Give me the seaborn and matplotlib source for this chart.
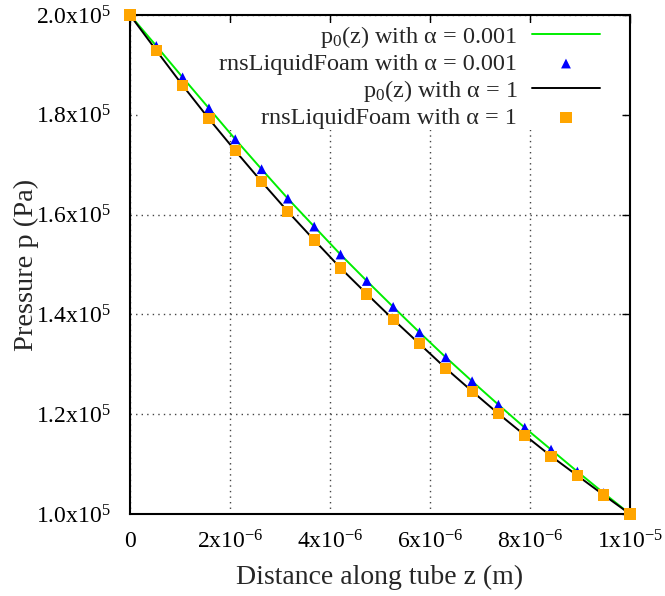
"""
Pressure along a tube: analytic p0(z) against rnsLiquidFoam results
"""

import matplotlib
matplotlib.use('Agg')
import matplotlib.pyplot as plt
from matplotlib.patches import Rectangle
import seaborn as sns

# Distance along the tube (m)
z = [0.0, 5.263e-7, 1.0526e-6, 1.5789e-6, 2.1053e-6, 2.6316e-6, 3.1579e-6,
     3.6842e-6, 4.2105e-6, 4.7368e-6, 5.2632e-6, 5.7895e-6, 6.3158e-6,
     6.8421e-6, 7.3684e-6, 7.8947e-6, 8.4211e-6, 8.9474e-6, 9.4737e-6, 1.0e-5]

# Analytic pressure (Pa)
p0_alpha_small = [200000, 193800, 187500, 181300, 175100, 169100, 163200,
                  157600, 152000, 146700, 141500, 136400, 131400, 126600,
                  121900, 117300, 112900, 108500, 104200, 100000]
p0_alpha_one = [200000, 192900, 185900, 179200, 172800, 166600, 160600,
                154900, 149300, 144100, 139000, 134100, 129200, 124600,
                120100, 115800, 111600, 107700, 103800, 100000]

# Solver results (Pa)
foam_alpha_small = [200000, 193800, 187500, 181300, 175100, 169100, 163200,
                    157600, 152000, 146700, 141500, 136400, 131400, 126600,
                    121900, 117300, 112900, 108500, 104200, 100000]
foam_alpha_one = [200000, 192900, 185900, 179200, 172800, 166600, 160600,
                  154900, 149300, 144100, 139000, 134100, 129200, 124600,
                  120100, 115800, 111600, 107700, 103800, 100000]

labels = ['p$_0$(z) with α = 0.001',
          'rnsLiquidFoam with α = 0.001',
          'p$_0$(z) with α = 1',
          'rnsLiquidFoam with α = 1']

xticks = [0, 2e-6, 4e-6, 6e-6, 8e-6, 1e-5]
xtick_labels = ['0', '2x10$^{-6}$', '4x10$^{-6}$', '6x10$^{-6}$',
                '8x10$^{-6}$', '1x10$^{-5}$']
yticks = [1.0e5, 1.2e5, 1.4e5, 1.6e5, 1.8e5, 2.0e5]
ytick_labels = ['1.0x10$^5$', '1.2x10$^5$', '1.4x10$^5$', '1.6x10$^5$',
                '1.8x10$^5$', '2.0x10$^5$']

sns.set_theme(style='white')
plt.rcParams['font.family'] = ['Liberation Serif', 'DejaVu Serif']
plt.rcParams['mathtext.fontset'] = 'custom'
plt.rcParams['mathtext.rm'] = 'Liberation Serif'
plt.rcParams['mathtext.it'] = 'Liberation Serif:italic'
plt.rcParams['mathtext.default'] = 'regular'

fig = plt.figure(figsize=(6.65, 5.96), dpi=100)
ax = fig.add_axes([130 / 665, 1 - 514 / 596, 500 / 665, 499 / 596])

sns.lineplot(x=z, y=p0_alpha_small, color='#00ee00', linewidth=1.4,
             label=labels[0], ax=ax, zorder=3)
sns.scatterplot(x=z, y=foam_alpha_small, marker='^', color='#0000ff', s=50,
                edgecolor='none', linewidth=0, label=labels[1], ax=ax,
                zorder=4, clip_on=False)
sns.lineplot(x=z, y=p0_alpha_one, color='black', linewidth=1.4,
             label=labels[2], ax=ax, zorder=5)
sns.scatterplot(x=z, y=foam_alpha_one, marker='s', color='#ffa500', s=65,
                edgecolor='none', linewidth=0, label=labels[3], ax=ax,
                zorder=6, clip_on=False)

ax.set_xlim(0, 1e-5)
ax.set_ylim(1e5, 2e5)
ax.set_xticks(xticks)
ax.set_xticklabels(xtick_labels)
ax.set_yticks(yticks)
ax.set_yticklabels(ytick_labels)

ax.set_axisbelow(True)
ax.grid(True, color='#444444', linestyle=(0, (1, 3)), linewidth=1.0)
# opaque key area hides the grid at the top
ax.add_patch(Rectangle((0.016, 0.77), 0.968, 0.214, transform=ax.transAxes,
                       facecolor='white', edgecolor='none', zorder=0.8))

ax.tick_params(direction='in', length=6, width=1, top=True, right=True,
               labelsize=17, colors='black')
ax.tick_params(axis='y', pad=14)
ax.tick_params(axis='x', pad=12)
for s in ax.spines.values():
    s.set_color('black')
    s.set_linewidth(1.5)

ax.set_xlabel('Distance along tube z (m)', fontsize=20, labelpad=8)
ax.set_ylabel('Pressure p (Pa)', fontsize=20.5, labelpad=-2)

ax.legend(loc='upper right', bbox_to_anchor=(0.94, 0.982), markerfirst=False,
          frameon=False, fontsize=17.5, handlelength=2.8, handletextpad=0.6,
          labelspacing=0.12, borderpad=0, borderaxespad=0)

fig.savefig('out.png', dpi=100)
plt.close(fig)
